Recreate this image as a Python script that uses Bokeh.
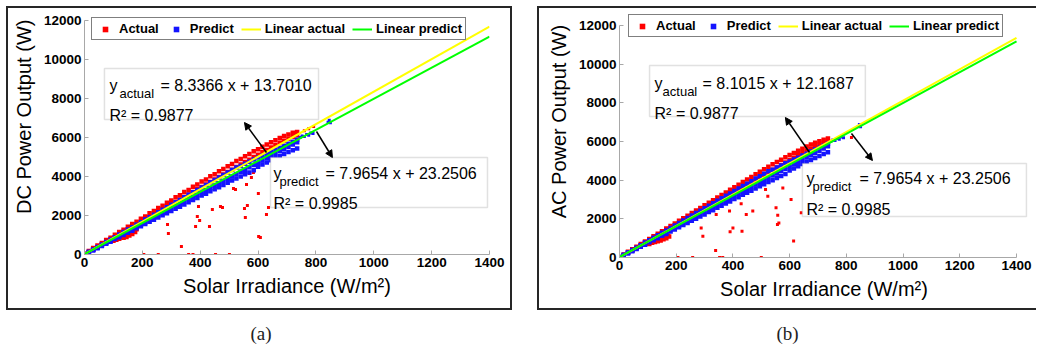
from bokeh.plotting import figure
from bokeh.models import (Range1d, BoxAnnotation, Label, Arrow, NormalHead, Legend, LegendItem,
                          Div, LinearAxis, FixedTicker)
from bokeh.layouts import row, column
from bokeh.embed import file_html
from bokeh.resources import INLINE

SANS = "Liberation Sans"
NBSP = "\u00a0"

# ---------------- data ----------------
X_TICKS = [0, 200, 400, 600, 800, 1000, 1200, 1400]
Y_TICKS = [0, 2000, 4000, 6000, 8000, 10000, 12000]
FIT_X = [0, 1400]

# irradiance values at which the dense bands were read
GRID = [0, 15, 30, 45, 60, 75, 90, 105, 120, 135, 150, 165, 180, 195, 210, 225, 240, 255,
        270, 285, 300, 315, 330, 345, 360, 375, 390, 405, 420, 435, 450, 465, 480, 495,
        510, 525, 540, 555, 570, 585, 600, 615, 630, 645, 660, 675, 690, 705, 720, 735]

# predicted power (same model in both panels)
pre_top = [20, 140, 260, 390, 510, 640, 770, 890, 1020, 1150, 1280, 1400, 1530, 1660, 1790,
           1910, 2040, 2170, 2300, 2420, 2550, 2680, 2800, 2930, 3060, 3190, 3310, 3440,
           3570, 3700, 3820, 3950, 4080, 4200, 4330, 4460, 4540, 4650, 4760, 4870, 4970,
           5070, 5160, 5270, 5370, 5480, 5580, 5680, 5780, 5880]
pre_mid = [0, 110, 240, 350, 470, 590, 700, 830, 940, 1060, 1180, 1290, 1420, 1530, 1650,
           1770, 1880, 2010, 2120, 2240, 2350, 2480, 2590, 2710, 2830, 2940, 3070, 3180,
           3300, 3410, 3540, 3650, 3770, 3890, 4000, 4120, 4240, 4350, 4470, 4590, 4700,
           4820, 4940, 5050, 5170, 5290, 5400, 5520, 5640, 5750]
pre_low = [0, 90, 210, 320, 440, 550, 660, 790, 890, 1000, 1120, 1220, 1340, 1450, 1560,
           1680, 1780, 1900, 2010, 2120, 2230, 2350, 2450, 2570, 2680, 2790, 2900, 3020,
           3120, 3240, 3350, 3450, 3570, 3680, 3790, 3900, 4000, 4110, 4210, 4320, 4500,
           4610, 4720, 4830, 4940, 5040, 5150, 5250, 5350, 5440]
pre_tail_x = [745, 752, 760, 768, 775, 782, 790, 842, 846, 850]
pre_tail_y = [6000, 6080, 6050, 6150, 6120, 6230, 6200, 6780, 6880, 6760]
pre_slope, pre_icpt = 7.9654, 23.2506

# (a) actual DC power
dc_act_top = [40, 180, 330, 460, 590, 740, 860, 1010, 1150, 1270, 1420, 1560, 1680, 1830,
              1950, 2110, 2230, 2380, 2500, 2650, 2770, 2930, 3040, 3200, 3310, 3470, 3590,
              3740, 3850, 4010, 4120, 4270, 4390, 4530, 4640, 4790, 4900, 5040, 5150, 5290,
              5400, 5520, 5640, 5760, 5860, 5980, 6080, 6150, 6240, 6280]
dc_act_mid = [10, 120, 250, 380, 510, 630, 770, 890, 1030, 1150, 1290, 1400, 1540, 1660,
              1800, 1920, 2060, 2170, 2310, 2430, 2570, 2690, 2820, 2950, 3080, 3200, 3340,
              3460, 3590, 3720, 3840, 3980, 4100, 4230, 4350, 4490, 4610, 4740, 4860, 5000,
              5110, 5250, 5360, 5490, 5600, 5730, 5830, 5940, 6040, 6120]
dc_bulge_x = [95, 100, 105, 110, 115, 120, 125, 130, 135, 140, 145, 150, 155, 160, 165, 170,
              175, 180]
dc_bulge_y = [780, 700, 820, 760, 900, 810, 880, 950, 860, 1000, 900, 1060, 980, 1120, 1050,
              1200, 1150, 1300]
dc_out_x = [760, 775, 792,
            205, 255, 287, 290, 335, 360, 375, 384, 390, 394, 398, 432, 442, 453, 470, 477,
            501, 515, 522, 553, 556, 560, 563, 570, 577, 584, 601, 602, 608, 629, 636]
dc_out_y = [6350, 6450, 6560,
            0, 0, 1540, 1080, 410, 0, 0, 1440, 1950, 2460, 1740, 1440, 2310, 0, 2460, 2410,
            0, 3390, 3330, 2360, 1900, 3590, 2510, 4150, 3950, 4200, 3130, 920, 870, 2050,
            2410]
dc_slope, dc_icpt = 8.3366, 13.7010

# (b) actual AC power
ac_act_top = [30, 160, 300, 430, 560, 700, 830, 960, 1100, 1230, 1360, 1500, 1630, 1760,
              1900, 2030, 2160, 2300, 2430, 2560, 2700, 2830, 2960, 3100, 3230, 3360, 3500,
              3630, 3760, 3900, 4030, 4160, 4300, 4430, 4560, 4690, 4820, 4940, 5060, 5180,
              5300, 5410, 5520, 5630, 5740, 5840, 5930, 6010, 6090, 6150]
ac_act_mid = [10, 130, 250, 380, 500, 630, 760, 880, 1010, 1130, 1260, 1390, 1510, 1640,
              1760, 1890, 2020, 2140, 2270, 2390, 2520, 2650, 2770, 2900, 3020, 3150, 3280,
              3400, 3530, 3650, 3780, 3910, 4030, 4160, 4280, 4410, 4540, 4660, 4790, 4910,
              5040, 5160, 5290, 5400, 5520, 5630, 5740, 5840, 5930, 6010]
ac_bulge_x = [100, 105, 110, 115, 120, 125, 130, 135, 140, 145, 150, 155, 160, 165, 170, 175]
ac_bulge_y = [760, 700, 800, 760, 860, 800, 900, 840, 950, 880, 1000, 940, 1060, 1000, 1120,
              1080]
ac_out_x = [818,
            206, 258, 288, 294, 339, 341, 353, 364, 388, 390, 400, 429, 432, 447, 470, 500,
            515, 523, 552, 557, 558, 562, 576, 605, 614, 641]
ac_out_y = [6210,
            0, 0, 1530, 1100, 360, 2220, 0, 0, 2400, 1330, 1530, 2780, 1360, 2220, 2400, 0,
            3520, 3170, 2570, 1710, 2190, 1790, 3600, 3000, 850, 2310]
ac_slope, ac_icpt = 8.1015, 12.1687


def style_axis(ax):
    ax.axis_line_color = "#a8a8a8"
    ax.major_tick_line_color = "#a8a8a8"
    ax.major_tick_in = 4
    ax.major_tick_out = 0
    ax.minor_tick_line_color = None
    ax.major_label_text_font = SANS
    ax.major_label_text_font_style = "bold"
    ax.major_label_text_font_size = "13.5px"
    ax.major_label_text_color = "black"
    ax.major_label_standoff = 3


def build(cfg):
    p = figure(width=cfg["w"], height=304,
               x_range=Range1d(0, cfg["xmax"]), y_range=Range1d(0, cfg["ymax"]),
               output_backend="svg", toolbar_location=None,
               min_border_left=cfg["ml"], min_border_right=cfg["mr"],
               min_border_top=cfg["mt"], min_border_bottom=cfg["mb"])
    p.outline_line_color = None
    p.background_fill_color = "white"
    p.border_fill_color = "white"
    p.grid.visible = False
    p.styles = cfg["border"]

    style_axis(p.xaxis[0])
    style_axis(p.yaxis[0])
    p.xaxis.ticker = X_TICKS
    p.yaxis.ticker = Y_TICKS
    p.xaxis.bounds = (0, 1400)
    p.yaxis.bounds = (0, 12000)
    p.xaxis.axis_label = "Solar Irradiance (W/m²)"
    p.xaxis.axis_label_text_font = SANS
    p.xaxis.axis_label_text_font_style = "normal"
    p.xaxis.axis_label_text_font_size = "20px"
    p.xaxis.axis_label_text_color = "black"
    p.xaxis.axis_label_standoff = 5

    # y title carried by a label-only axis (leading no-break spaces lift it like the original)
    p.extra_y_ranges = {"ttl": Range1d(0, cfg["ymax"])}
    tax = LinearAxis(y_range_name="ttl", ticker=FixedTicker(ticks=[]),
                     axis_line_color=None,
                     major_tick_line_color=None, minor_tick_line_color=None,
                     major_tick_in=0, major_tick_out=0, major_label_standoff=0,
                     axis_label=NBSP * cfg["tpad"] + cfg["ytitle"], axis_label_text_font=SANS,
                     axis_label_text_font_style="normal", axis_label_text_font_size="20px",
                     axis_label_text_color="black", axis_label_standoff=cfg["tstand"])
    p.add_layout(tax, "left")

    RED, BLUE = "#ff0000", "#1414ff"
    # dense bands
    p.scatter(GRID + GRID + cfg["bulge_x"], cfg["top"] + cfg["mid"] + cfg["bulge_y"],
              marker="square", size=4.5, fill_color=RED, line_color=None)
    r_act = p.scatter(cfg["out_x"], cfg["out_y"], marker="square", size=3,
                      fill_color=RED, line_color=None)
    p.scatter(GRID + GRID + GRID, pre_top + pre_mid + pre_low,
              marker="square", size=4.5, fill_color=BLUE, line_color=None)
    r_pre = p.scatter(pre_tail_x, pre_tail_y, marker="square", size=3,
                      fill_color=BLUE, line_color=None)
    r_la = p.line(FIT_X, [cfg["slope"] * x + cfg["icpt"] for x in FIT_X],
                  line_color="#ffff00", line_width=2)
    r_lp = p.line(FIT_X, [pre_slope * x + pre_icpt for x in FIT_X],
                  line_color="#00ff00", line_width=2)

    legend = Legend(items=[LegendItem(label="Actual", renderers=[r_act]),
                           LegendItem(label="Predict", renderers=[r_pre]),
                           LegendItem(label="Linear actual", renderers=[r_la]),
                           LegendItem(label="Linear predict", renderers=[r_lp])],
                    location=cfg["leg"], orientation="horizontal",
                    border_line_color="black", border_line_width=1,
                    background_fill_color="white", background_fill_alpha=1,
                    label_text_font=SANS, label_text_font_style="bold",
                    label_text_font_size="13px", label_text_color="black",
                    padding=3, spacing=7, glyph_width=20, glyph_height=14,
                    label_height=14, label_standoff=4, margin=0)
    p.add_layout(legend)

    # equation boxes
    for bx in cfg["boxes"]:
        l, r, t, b = bx["lrtb"]
        p.add_layout(BoxAnnotation(left=l, right=r, top=t, bottom=b, fill_color="white",
                                   fill_alpha=1, line_color="#9a9a9a", line_width=1.5))
        for txt, dx, dy, fs in bx["texts"]:
            p.add_layout(Label(x=l, y=t, x_offset=dx, y_offset=dy, text=txt,
                               text_font=SANS, text_font_size=fs, text_color="black",
                               text_align="left", text_baseline="alphabetic"))
    for (x0, y0, x1, y1) in cfg["arrows"]:
        p.add_layout(Arrow(end=NormalHead(size=7, fill_color="black", line_color="black"),
                           x_start=x0, y_start=y0, x_end=x1, y_end=y1,
                           line_color="black", line_width=1.5))
    return p


BORDER = "2px solid #262626"
cfg_a = dict(w=506, ml=76, mr=25, mt=4, mb=58, xmax=1400, ymax=12410,
             border={"border": BORDER},
             top=dc_act_top, mid=dc_act_mid, bulge_x=dc_bulge_x, bulge_y=dc_bulge_y,
             out_x=dc_out_x, out_y=dc_out_y,
             slope=dc_slope, icpt=dc_icpt, leg=(7, 214),
             tpad=6, tstand=6,
             ytitle="DC Power Output (W)",
             boxes=[dict(lrtb=(69, 809, 9538, 6923),
                         texts=[("y", 5, -17, "16px"), ("actual", 15, -25, "13px"),
                                ("= 8.3366 x + 13.7010", 56, -17, "16px"),
                                ("R² = 0.9877", 5, -47, "16px")]),
                    dict(lrtb=(643, 1393, 4974, 2410),
                         texts=[("y", 3, -16, "16px"), ("predict", 9, -24, "13px"),
                                ("= 7.9654 x + 23.2506", 55, -16, "16px"),
                                ("R² = 0.9985", 3, -46, "16px")])],
             arrows=[(629, 5231, 553, 6769), (802, 6308, 857, 4974)])
cfg_b = dict(w=499, ml=80, mr=10, mt=5, mb=55, xmax=1442.3, ymax=12621,
             border={"border-top": BORDER, "border-left": BORDER, "border-bottom": BORDER},
             top=ac_act_top, mid=ac_act_mid, bulge_x=ac_bulge_x, bulge_y=ac_bulge_y,
             out_x=ac_out_x, out_y=ac_out_y,
             slope=ac_slope, icpt=ac_icpt, leg=(9, 220),
             tpad=5, tstand=6,
             ytitle="AC Power Output (W)",
             boxes=[dict(lrtb=(106, 867, 9931, 7293),
                         texts=[("y", 5, -18, "16px"), ("actual", 13, -26, "13px"),
                                ("= 8.1015 x + 12.1687", 53, -18, "16px"),
                                ("R² = 0.9877", 5, -48, "16px")]),
                    dict(lrtb=(645, 1435, 4862, 2121),
                         texts=[("y", 4, -15, "16px"), ("predict", 10, -23, "13px"),
                                ("= 7.9654 x + 23.2506", 57, -15, "16px"),
                                ("R² = 0.9985", 4, -46, "16px")])],
             arrows=[(670, 5431, 585, 7241), (818, 6414, 892, 5017)])

pa = build(cfg_a)
pb = build(cfg_b)


def caption(txt, w, pad_left):
    return Div(text=('<div style="display:block;width:%dpx;text-align:center;'
                     'font-family:\'Liberation Serif\';font-size:19px;line-height:16px;'
                     'padding-top:16px;padding-left:%dpx;color:#222">%s</div>'
                     % (w - pad_left, pad_left, txt)),
               width=w, height=32, margin=0)


col_a = column(pa, caption("(a)", 510, 0), spacing=0)
col_b = column(pb, caption("(b)", 501, 15), spacing=0)
layout = row(col_a, col_b, spacing=21, margin=(6, 0, 0, 6))

open("out.html", "w").write(file_html(layout, INLINE))
